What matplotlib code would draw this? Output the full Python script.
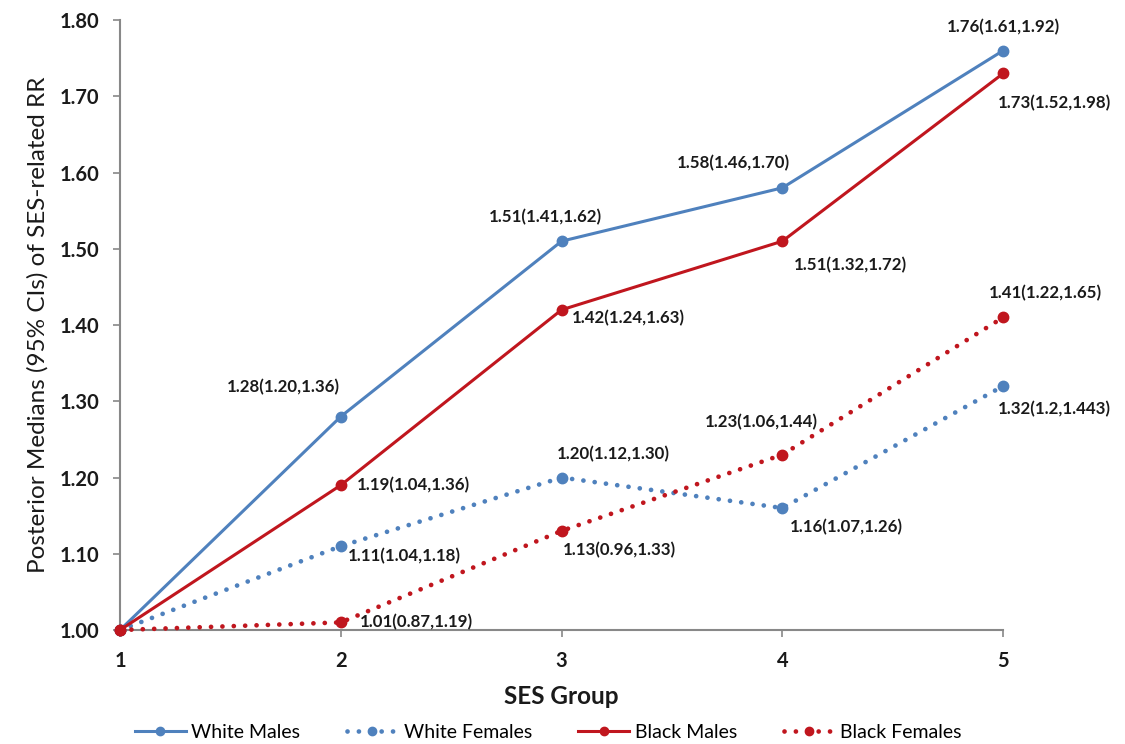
import matplotlib
matplotlib.use("Agg")
import matplotlib.pyplot as plt

plt.rcParams['font.family'] = ['Lato', 'DejaVu Sans']

ses = [1, 2, 3, 4, 5]
white_males = [1.00, 1.28, 1.51, 1.58, 1.76]
white_females = [1.00, 1.11, 1.20, 1.16, 1.32]
black_males = [1.00, 1.19, 1.42, 1.51, 1.73]
black_females = [1.00, 1.01, 1.13, 1.23, 1.41]

wm_labels = ["1.28(1.20,1.36)", "1.51(1.41,1.62)", "1.58(1.46,1.70)", "1.76(1.61,1.92)"]
wf_labels = ["1.11(1.04,1.18)", "1.20(1.12,1.30)", "1.16(1.07,1.26)", "1.32(1.2,1.443)"]
bm_labels = ["1.19(1.04,1.36)", "1.42(1.24,1.63)", "1.51(1.32,1.72)", "1.73(1.52,1.98)"]
bf_labels = ["1.01(0.87,1.19)", "1.13(0.96,1.33)", "1.23(1.06,1.44)", "1.41(1.22,1.65)"]

yticks = [1.00, 1.10, 1.20, 1.30, 1.40, 1.50, 1.60, 1.70, 1.80]

blue = '#4F81BD'
red = '#C0161E'
txt = '#1a1a1a'
dots = (0, (0.01, 2.4))

# label placement: (dx px, dy px, horizontal alignment)
wm_pos = [(-57, 29, 'center'), (-16, 24, 'center'), (-49, 25, 'center'), (0, 23, 'center')]
wf_pos = [(7, -10, 'left'), (52, 23, 'center'), (7, -19, 'left'), (-5, -23, 'left')]
bm_pos = [(16, 0, 'left'), (10, -8, 'left'), (11, -24, 'left'), (-5, -30, 'left')]
bf_pos = [(19, 0, 'left'), (1, -19, 'left'), (-21, 33, 'center'), (42, 24, 'center')]

fig = plt.figure(figsize=(11.25, 7.44), dpi=100)
ax = fig.add_axes([0.1067, 0.1532, 0.785, 0.8198])

series = [
    ("White Males", white_males, blue, '-', wm_labels, wm_pos),
    ("White Females", white_females, blue, dots, wf_labels, wf_pos),
    ("Black Males", black_males, red, '-', bm_labels, bm_pos),
    ("Black Females", black_females, red, dots, bf_labels, bf_pos),
]

for name, vals, col, ls, labs, pos in series:
    dotted = ls != '-'
    ax.plot(ses, vals, color=col, linestyle=ls, linewidth=3.4 if dotted else 2.2,
            dash_capstyle='round', marker='o', markersize=7.5, label=name,
            clip_on=False, zorder=3)
    for x, v, lab, (dx, dy, ha) in zip(ses[1:], vals[1:], labs, pos):
        ax.annotate(lab, (x, v), xytext=(dx, dy), textcoords='offset pixels',
                    ha=ha, va='center', fontsize=12.2, fontweight='bold', color=txt)

ax.set_xlim(1, 5)
ax.set_ylim(1.0, 1.8)
ax.set_xticks(ses)
ax.set_yticks(yticks)
ax.set_yticklabels([f"{t:.2f}" for t in yticks])
ax.tick_params(axis='both', direction='out', length=5, width=1.2, color='#888888',
               labelsize=14.5, labelcolor=txt, pad=10)
for lbl in ax.get_xticklabels() + ax.get_yticklabels():
    lbl.set_fontweight('bold')

for s in ['top', 'right']:
    ax.spines[s].set_visible(False)
for s in ['left', 'bottom']:
    ax.spines[s].set_color('#888888')
    ax.spines[s].set_linewidth(1.5)

ax.set_xlabel("SES Group", fontsize=17.5, fontweight='bold', color=txt, labelpad=10)
ax.set_ylabel("Posterior Medians (95% CIs) of SES-related RR", fontsize=17.5,
              color=txt, labelpad=8)

ax.legend(loc='upper center', bbox_to_anchor=(0.485, -0.125), ncol=4, frameon=False,
          fontsize=14, handlelength=2.6, columnspacing=2.4, handletextpad=0.3,
          markerscale=0.8)

fig.savefig("out.png", dpi=100)
